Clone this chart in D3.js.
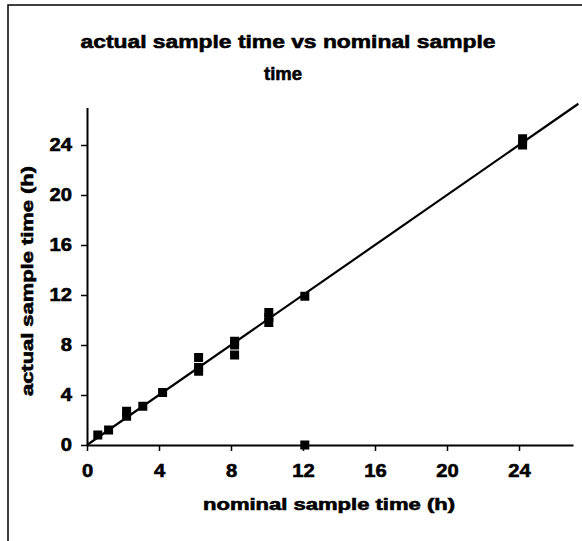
<!DOCTYPE html>
<html>
<head>
<meta charset="utf-8">
<script src="https://cdn.jsdelivr.net/npm/d3@7"></script>
<style>
  html, body { margin: 0; padding: 0; background: #fff; }
  svg { display: block; }
  text { font-family: "Liberation Sans", Arial, sans-serif; font-weight: bold; fill: #000; stroke: #000; stroke-width: 0.6px; }
</style>
</head>
<body>
<svg id="chart" width="582" height="541"></svg>
<script>
// ---- data ----
const nominalTime = [0.6, 1.2, 2.2, 2.2, 3.1, 4.2, 6.2, 6.2, 6.2, 8.2, 8.2, 8.2, 10.1, 10.1, 10.1, 12.1, 12.1, 24.2, 24.2];
const actualTime  = [0.8, 1.2, 2.3, 2.7, 3.1, 4.2, 5.9, 6.2, 7.0, 8.0, 8.3, 7.2, 9.8, 10.2, 10.6, 11.9, 0.0, 24.0, 24.5];
const xTicks = [0, 4, 8, 12, 16, 20, 24];
const yTicks = [0, 4, 8, 12, 16, 20, 24];
const identityLine = [0, 27.3];
const titleLines = ["actual sample time vs nominal sample", "time"];
const xTitle = "nominal sample time (h)";
const yTitle = "actual sample time (h)";

const svg = d3.select("#chart");

// frame
svg.append("rect").attr("x", 8).attr("y", 5).attr("width", 620).attr("height", 620)
  .attr("fill", "none").attr("stroke", "#000").attr("stroke-width", 1.5);

const x = d3.scaleLinear().domain([0, 27]).range([87, 573]);
const y = d3.scaleLinear().domain([0, 27]).range([445, 107.5]);

function stretch(sel, factor) {
  sel.each(function() {
    const n = this.getComputedTextLength();
    d3.select(this).attr("textLength", n * factor).attr("lengthAdjust", "spacingAndGlyphs");
  });
}
function fitWidth(sel, w) {
  sel.attr("textLength", w).attr("lengthAdjust", "spacingAndGlyphs");
}

// axes
const xAxis = svg.append("g").attr("transform", `translate(0,${y(0)})`)
  .call(d3.axisBottom(x).tickValues(xTicks).tickSizeOuter(0).tickSizeInner(6).tickPadding(13).tickFormat(d3.format("d")));
const yAxis = svg.append("g").attr("transform", `translate(${x(0)},0)`)
  .call(d3.axisLeft(y).tickValues(yTicks).tickSizeOuter(0).tickSizeInner(6).tickPadding(9).tickFormat(d3.format("d")));
[xAxis, yAxis].forEach(a => {
  a.select(".domain").attr("stroke", "#000").attr("stroke-width", 2);
  a.selectAll(".tick line").attr("stroke", "#000").attr("stroke-width", 1.5);
  a.selectAll(".tick text").attr("font-size", 18).attr("font-family", "'Liberation Sans', Arial, sans-serif")
    .attr("font-weight", "bold").attr("fill", "#000");
});
xAxis.selectAll(".tick text").attr("dy", "0.71em");
stretch(xAxis.selectAll(".tick text"), 1.12);
stretch(yAxis.selectAll(".tick text"), 1.12);

// identity line
svg.append("line")
  .attr("x1", x(identityLine[0])).attr("y1", y(identityLine[0]))
  .attr("x2", x(identityLine[1])).attr("y2", y(identityLine[1]))
  .attr("stroke", "#000").attr("stroke-width", 2.2);

// points
const pts = nominalTime.map((d, i) => ({ x: d, y: actualTime[i] }));
const ms = 9;
svg.append("g").selectAll("rect").data(pts).join("rect")
  .attr("x", d => x(d.x) - ms / 2).attr("y", d => y(d.y) - ms / 2)
  .attr("width", ms).attr("height", ms).attr("fill", "#000");

// title
const t1 = svg.append("text").attr("x", 288).attr("y", 48).attr("text-anchor", "middle")
  .attr("font-size", 19).text(titleLines[0]);
fitWidth(t1, 415);
const t2 = svg.append("text").attr("x", 283).attr("y", 80).attr("text-anchor", "middle")
  .attr("font-size", 19).text(titleLines[1]);
fitWidth(t2, 38);

// axis titles
const xt = svg.append("text").attr("x", 329).attr("y", 510).attr("text-anchor", "middle")
  .attr("font-size", 16).text(xTitle);
fitWidth(xt, 252);
const yt = svg.append("text").attr("transform", "translate(33,281) rotate(-90)").attr("text-anchor", "middle")
  .attr("font-size", 16).text(yTitle);
fitWidth(yt, 230);
</script>
</body>
</html>
